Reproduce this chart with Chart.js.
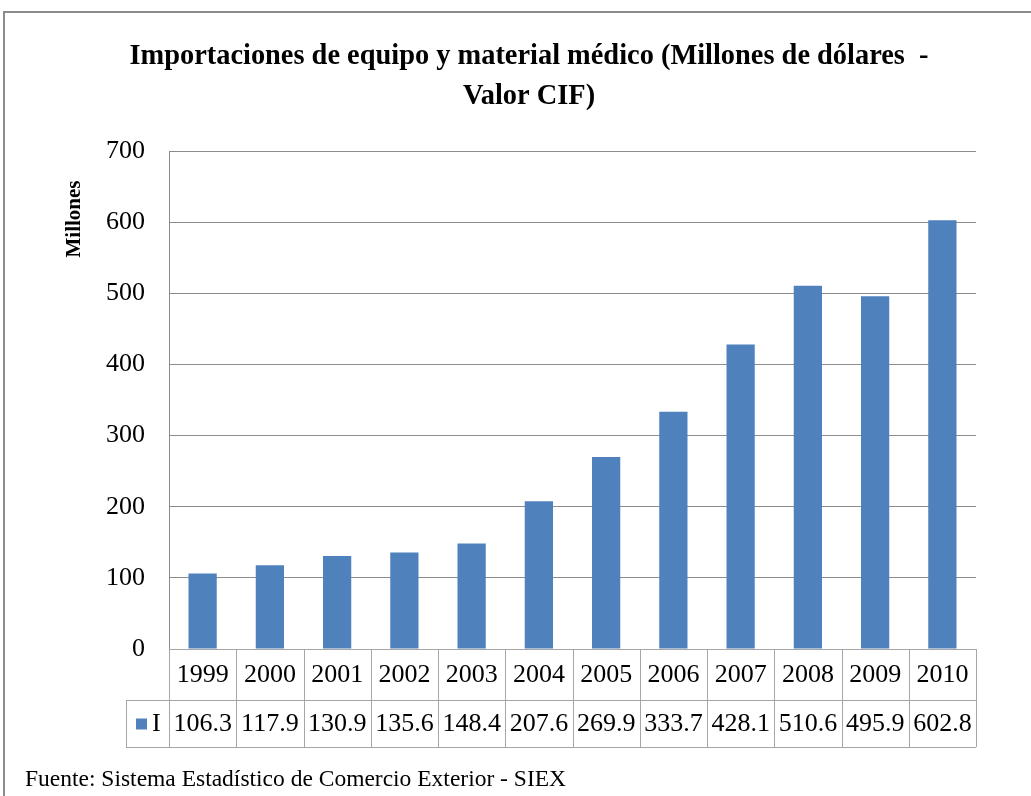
<!DOCTYPE html>
<html>
<head>
<meta charset="utf-8">
<script src="https://cdn.jsdelivr.net/npm/chart.js@4"></script>
<style>
  body { margin: 0; background: #fff; }
  #wrap { width: 1031px; height: 796px; position: relative; }
</style>
</head>
<body>
<div id="wrap"><canvas id="importChart"></canvas></div>
<script>
var years = ['1999', '2000', '2001', '2002', '2003', '2004', '2005', '2006', '2007', '2008', '2009', '2010'];
var imports = [106.3, 117.9, 130.9, 135.6, 148.4, 207.6, 269.9, 333.7, 428.1, 510.6, 495.9, 602.8];
var seriesName = 'I';
var titleLines = ['Importaciones de equipo y material médico (Millones de dólares  -', 'Valor CIF)'];
var axisTitle = 'Millones';
var sourceNote = 'Fuente: Sistema Estadístico de Comercio Exterior - SIEX';

var barColor = '#4F81BD';
var serif = "'Liberation Serif', 'Times New Roman', serif";

// frame, axis title, data table under the axis and source line
var tablePlugin = {
	id: 'dataTable',
	beforeDraw: function (chart) {
		var c = chart.ctx;
		c.save();
		c.strokeStyle = '#8c8c8c';
		c.lineWidth = 2;
		c.strokeRect(4, 12, 1100, 900);
		c.restore();
	},
	afterDraw: function (chart) {
		var c = chart.ctx;
		var x = chart.scales.x;
		var area = chart.chartArea;
		var row1 = area.bottom, row2 = row1 + 51, row3 = row2 + 47;
		var half = (x.getPixelForValue(1) - x.getPixelForValue(0)) / 2;
		var legendLeft = 126;

		c.save();
		// "Millones" sits near the top of the axis, as in the original
		c.translate(75, 219);
		c.rotate(-Math.PI / 2);
		c.fillStyle = '#000';
		c.font = 'bold 21px ' + serif;
		c.textAlign = 'center';
		c.textBaseline = 'middle';
		c.fillText(axisTitle, 0, 0);
		c.restore();

		c.save();
		c.strokeStyle = '#a6a6a6';
		c.lineWidth = 1;
		c.beginPath();
		c.moveTo(area.left, row1 + 0.5); c.lineTo(area.right, row1 + 0.5);
		c.moveTo(legendLeft, row2 + 0.5); c.lineTo(area.right, row2 + 0.5);
		c.moveTo(legendLeft, row3 + 0.5); c.lineTo(area.right, row3 + 0.5);
		c.moveTo(legendLeft + 0.5, row2); c.lineTo(legendLeft + 0.5, row3);
		for (var i = 0; i <= years.length; i++) {
			var edge = Math.round(x.getPixelForValue(i) - half) + 0.5;
			c.moveTo(edge, row1); c.lineTo(edge, row3);
		}
		c.stroke();

		c.fillStyle = '#000';
		c.font = '26px ' + serif;
		c.textAlign = 'center';
		c.textBaseline = 'middle';
		years.forEach(function (y, i) {
			var px = x.getPixelForValue(i);
			c.fillText(y, px, (row1 + row2) / 2 + 1);
			c.fillText(imports[i].toFixed(1), px, (row2 + row3) / 2 + 1);
		});

		// legend key in the table
		c.fillStyle = barColor;
		c.fillRect(136, (row2 + row3) / 2 - 5, 11, 11);
		c.fillStyle = '#000';
		c.textAlign = 'left';
		c.fillText(seriesName, 152, (row2 + row3) / 2 + 1);

		c.font = '23.5px ' + serif;
		c.textBaseline = 'alphabetic';
		c.fillText(sourceNote, 25, 786);
		c.restore();
	}
};

var ctx = document.getElementById('importChart').getContext('2d');

var importChart = new Chart(ctx, {
	type: 'bar',
	data: {
		labels: years,
		datasets: [{
			label: seriesName,
			data: imports,
			backgroundColor: barColor,
			barPercentage: 0.42,
			categoryPercentage: 1.0
		}]
	},
	options: {
		responsive: true,
		maintainAspectRatio: false,
		animation: false,
		layout: {
			padding: { top: 0, left: 82, right: 55, bottom: 147 }
		},
		plugins: {
			legend: { display: false },
			tooltip: { enabled: false },
			title: {
				display: true,
				text: titleLines,
				color: '#000',
				font: { family: serif, size: 28.4, weight: 'bold', lineHeight: 1.41 },
				padding: { top: 37, bottom: 34 }
			}
		},
		scales: {
			x: {
				display: false
			},
			y: {
				min: 0,
				max: 700,
				afterFit: function (scale) { scale.width = 87; },
				ticks: {
					stepSize: 100,
					padding: 24,
					color: '#000',
					font: { family: serif, size: 26 }
				},
				grid: { color: '#8c8c8c', drawTicks: false },
				border: { display: true, color: '#8c8c8c' }
			}
		}
	},
	plugins: [tablePlugin]
});

function resizeChart() {
	importChart.resize();
}

window.addEventListener('resize', resizeChart);
</script>
</body>
</html>
